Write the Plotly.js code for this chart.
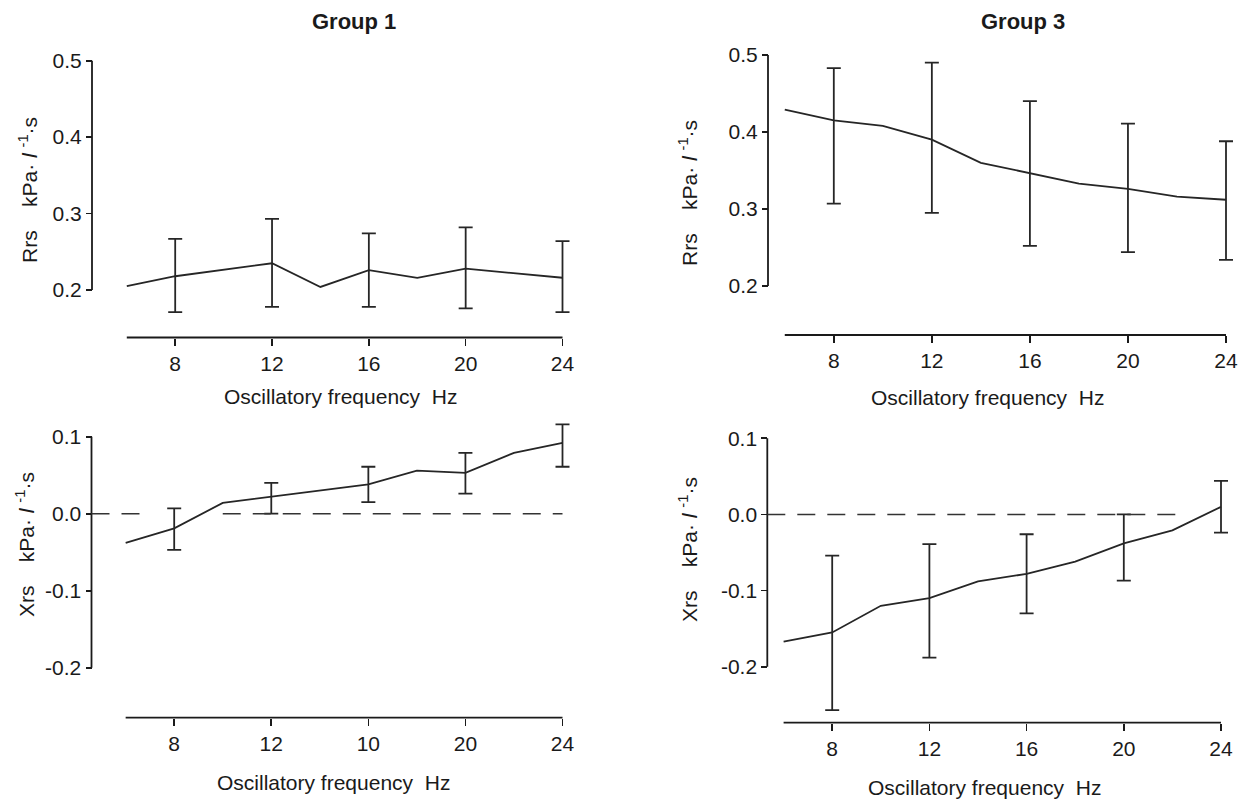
<!DOCTYPE html>
<html>
<head>
<meta charset="utf-8">
<script src="https://cdn.plot.ly/plotly-3.0.1.min.js"></script>
<style>html,body{margin:0;padding:0;background:#fff;}#chart{width:1241px;height:801px;}</style>
</head>
<body>
<div id="chart"></div>
<script>
// ---------------- DATA ----------------
var xTickVals = [8, 12, 16, 20, 24];
var xTickText = ['8', '12', '16', '20', '24'];
var xTickTextXrsG1 = ['8', '12', '10', '20', '24'];   // as printed in the original
var rrsTickVals = [0.2, 0.3, 0.4, 0.5];
var rrsTickText = ['0.2', '0.3', '0.4', '0.5'];
var xrsTickVals = [-0.2, -0.1, 0.0, 0.1];
var xrsTickText = ['-0.2', '-0.1', '0.0', '0.1'];
var errFreq = [8, 12, 16, 20, 24];

// Group 1 Rrs
var g1RrsFreq  = [6, 8, 12, 14, 16, 18, 20, 24];
var g1RrsMean  = [0.205, 0.218, 0.235, 0.204, 0.226, 0.216, 0.228, 0.216];
var g1RrsUpper = [0.267, 0.293, 0.274, 0.282, 0.264];
var g1RrsLower = [0.171, 0.178, 0.178, 0.176, 0.171];

// Group 3 Rrs
var g3RrsFreq  = [6, 8, 10, 12, 14, 16, 18, 20, 22, 24];
var g3RrsMean  = [0.429, 0.415, 0.408, 0.390, 0.360, 0.346, 0.333, 0.326, 0.316, 0.312];
var g3RrsUpper = [0.483, 0.490, 0.440, 0.411, 0.388];
var g3RrsLower = [0.307, 0.295, 0.252, 0.244, 0.234];

// Group 1 Xrs
var g1XrsFreq  = [6, 8, 10, 12, 16, 18, 20, 22, 24];
var g1XrsMean  = [-0.038, -0.019, 0.014, 0.022, 0.038, 0.056, 0.053, 0.079, 0.092];
var g1XrsUpper = [0.007, 0.040, 0.061, 0.079, 0.116];
var g1XrsLower = [-0.047, 0.000, 0.015, 0.026, 0.061];

// Group 3 Xrs
var g3XrsFreq  = [6, 8, 10, 12, 14, 16, 18, 20, 22, 24];
var g3XrsMean  = [-0.167, -0.155, -0.120, -0.110, -0.088, -0.078, -0.062, -0.038, -0.021, 0.010];
var g3XrsUpper = [-0.054, -0.039, -0.026, 0.000, 0.044];
var g3XrsLower = [-0.257, -0.188, -0.130, -0.087, -0.024];

// ---------------- LAYOUT GEOMETRY (pixels) ----------------
var W = 1241, H = 801;
var FONT = '"Liberation Sans", Arial, Helvetica, sans-serif';
var INK = '#1a1a1a';
var TXT = 21;
var geo = [
  {yAx: 92,    xAy: 337.5, x8: 175.2, x24: 562.5, yLo: 290,   yHi: 60.7,  vLo: 0.2,  vHi: 0.5},
  {yAx: 768,   xAy: 335,   x8: 833.8, x24: 1226,  yLo: 286,   yHi: 55,    vLo: 0.2,  vHi: 0.5},
  {yAx: 91.5,  xAy: 717.7, x8: 174.2, x24: 562.5, yLo: 667.7, yHi: 436.7, vLo: -0.2, vHi: 0.1},
  {yAx: 767.3, xAy: 722.7, x8: 832.2, x24: 1221,  yLo: 666.7, yHi: 438.3, vLo: -0.2, vHi: 0.1}
];
function lin(p1, v1, p2, v2, p) { return v1 + (p - p1) * (v2 - v1) / (p2 - p1); }

var panels = [
  {freq: g1RrsFreq, mean: g1RrsMean, up: g1RrsUpper, lo: g1RrsLower, yv: rrsTickVals, yt: rrsTickText, xt: xTickText},
  {freq: g3RrsFreq, mean: g3RrsMean, up: g3RrsUpper, lo: g3RrsLower, yv: rrsTickVals, yt: rrsTickText, xt: xTickText},
  {freq: g1XrsFreq, mean: g1XrsMean, up: g1XrsUpper, lo: g1XrsLower, yv: xrsTickVals, yt: xrsTickText, xt: xTickTextXrsG1},
  {freq: g3XrsFreq, mean: g3XrsMean, up: g3XrsUpper, lo: g3XrsLower, yv: xrsTickVals, yt: xrsTickText, xt: xTickText}
];

var traces = [], shapes = [], annotations = [];
var layout = {
  width: W, height: H, margin: {l: 0, r: 0, t: 0, b: 0},
  paper_bgcolor: '#ffffff', plot_bgcolor: 'rgba(0,0,0,0)',
  showlegend: false, font: {family: FONT, size: TXT, color: INK}
};

panels.forEach(function (p, i) {
  var g = geo[i];
  var n = i === 0 ? '' : String(i + 1);
  var xa = 'x' + n, ya = 'y' + n;
  var L = g.yAx - 3, R = g.x24 + 12, T = g.yHi - 22, B = g.xAy + 3;
  var xr = [lin(g.x8, 8, g.x24, 24, L), lin(g.x8, 8, g.x24, 24, R)];
  var yr = [lin(g.yLo, g.vLo, g.yHi, g.vHi, B), lin(g.yLo, g.vLo, g.yHi, g.vHi, T)];
  var axisHz = lin(g.x8, 8, g.x24, 24, g.yAx);
  var axisVal = lin(g.yLo, g.vLo, g.yHi, g.vHi, g.xAy);

  layout['xaxis' + n] = {
    domain: [L / W, R / W], range: xr, anchor: 'free', position: 1 - g.xAy / H,
    showline: false, showgrid: false, zeroline: false,
    tickmode: 'array', tickvals: xTickVals, ticktext: p.xt,
    ticks: 'outside', ticklen: 7, tickwidth: 1.6, tickcolor: INK,
    tickfont: {family: FONT, size: TXT, color: INK}, fixedrange: true
  };
  layout['yaxis' + n] = {
    domain: [1 - B / H, 1 - T / H], range: yr, anchor: 'free', position: g.yAx / W,
    showline: false, showgrid: false, zeroline: false,
    tickmode: 'array', tickvals: p.yv, ticktext: p.yt,
    ticks: 'outside', ticklen: 6, tickwidth: 1.6, tickcolor: INK,
    tickfont: {family: FONT, size: TXT, color: INK}, fixedrange: true
  };

  // mean curve
  traces.push({
    type: 'scatter', mode: 'lines', x: p.freq, y: p.mean, xaxis: xa, yaxis: ya,
    line: {color: '#262626', width: 1.8}, hoverinfo: 'skip'
  });
  // error bars at 8,12,16,20,24 Hz
  var em = errFreq.map(function (f) { return p.mean[p.freq.indexOf(f)]; });
  traces.push({
    type: 'scatter', mode: 'markers', x: errFreq, y: em, xaxis: xa, yaxis: ya,
    marker: {size: 1, color: 'rgba(0,0,0,0)'},
    error_y: {
      type: 'data', symmetric: false,
      array: p.up.map(function (u, k) { return u - em[k]; }),
      arrayminus: p.lo.map(function (l, k) { return em[k] - l; }),
      color: '#262626', thickness: 1.8, width: 7
    },
    hoverinfo: 'skip'
  });

  // detached axis lines
  shapes.push({type: 'line', xref: xa, yref: ya, x0: axisHz, x1: axisHz, y0: g.vLo, y1: g.vHi,
               line: {color: INK, width: 1.8}});
  shapes.push({type: 'line', xref: xa, yref: ya, x0: 6, x1: 24, y0: axisVal, y1: axisVal,
               line: {color: INK, width: 1.8}});
});

// zero reference lines in Xrs panels
shapes.push({type: 'line', xref: 'x3', yref: 'y3', x0: lin(geo[2].x8, 8, geo[2].x24, 24, geo[2].yAx), x1: 6.85, y0: 0, y1: 0,
             line: {color: '#333', width: 1.6, dash: '18px,12px'}});
shapes.push({type: 'line', xref: 'x3', yref: 'y3', x0: 10.0, x1: 24, y0: 0, y1: 0,
             line: {color: '#333', width: 1.6, dash: '18px,12px'}});
shapes.push({type: 'line', xref: 'x4', yref: 'y4', x0: lin(geo[3].x8, 8, geo[3].x24, 24, geo[3].yAx), x1: 22.2, y0: 0, y1: 0,
             line: {color: '#333', width: 1.6, dash: '18px,12px'}});

// titles and axis titles (placed in paper coordinates from pixel positions)
function ann(text, px, py, opts) {
  var a = {text: text, x: px / W, y: 1 - py / H, xref: 'paper', yref: 'paper',
           xanchor: 'center', yanchor: 'middle', showarrow: false,
           font: {family: FONT, size: TXT, color: INK}};
  for (var k in opts) a[k] = opts[k];
  return a;
}
var yTitleRrs = 'Rrs\u00a0\u00a0\u00a0\u00a0kPa\u00b7\u00a0<i>l</i>\u00a0<sup>-1</sup>\u00b7s';
var yTitleXrs = 'Xrs\u00a0\u00a0\u00a0\u00a0kPa\u00b7\u00a0<i>l</i>\u00a0<sup>-1</sup>\u00b7s';
var xTitle = 'Oscillatory frequency\u00a0\u00a0Hz';
annotations.push(ann('<b>Group 1</b>', 354, 22, {font: {family: FONT, size: 22, color: INK}}));
annotations.push(ann('<b>Group 3</b>', 1023, 22, {font: {family: FONT, size: 22, color: INK}}));
annotations.push(ann(xTitle, 340, 396, {}));
annotations.push(ann(xTitle, 987, 397, {}));
annotations.push(ann(xTitle, 333, 782, {}));
annotations.push(ann(xTitle, 985, 787, {}));
annotations.push(ann(yTitleRrs, 28, 190, {textangle: -90}));
annotations.push(ann(yTitleRrs, 688, 193, {textangle: -90}));
annotations.push(ann(yTitleXrs, 25, 545, {textangle: -90}));
annotations.push(ann(yTitleXrs, 688, 550, {textangle: -90}));

layout.shapes = shapes;
layout.annotations = annotations;

Plotly.newPlot('chart', traces, layout, {displayModeBar: false, staticPlot: true});
</script>
</body>
</html>
